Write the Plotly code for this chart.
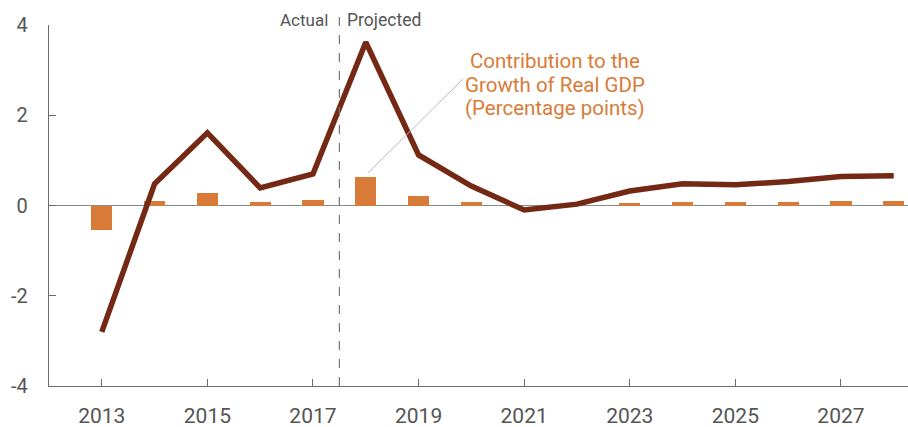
import plotly.graph_objects as go

years = list(range(2013, 2029))
gdp_growth = [-2.80, 0.48, 1.61, 0.39, 0.70, 3.62, 1.12, 0.43, -0.10, 0.03, 0.32, 0.48, 0.46, 0.53, 0.64, 0.66]
contribution = [-0.54, 0.09, 0.28, 0.07, 0.12, 0.63, 0.20, 0.07, 0.0, 0.0, 0.05, 0.08, 0.07, 0.08, 0.10, 0.10]
tick_years = [2013, 2015, 2017, 2019, 2021, 2023, 2025, 2027]
tick_text = [str(y) for y in tick_years]
y_ticks = [-4, -2, 0, 2, 4]
y_tick_text = ["-4", "-2", "0", "2", "4"]
label_lines = ["Contribution to the", "Growth of Real GDP", "(Percentage points)"]
label_y = [3.20, 2.67, 2.16]

LINE_C = "#732914"
BAR_C = "#d97b38"
AXIS_C = "#6b6b6b"
TEXT_C = "#555555"
FONT = "Roboto"

fig = go.Figure()
fig.add_trace(go.Bar(x=years, y=contribution, marker=dict(color=BAR_C, line=dict(width=0)),
                     width=0.4, hoverinfo="skip"))
fig.add_trace(go.Scatter(x=years, y=gdp_growth, mode="lines",
                         line=dict(color=LINE_C, width=5.5), hoverinfo="skip"))

# vertical dashed divider between actual and projected
fig.add_shape(type="line", xref="x", yref="paper", x0=2017.5, x1=2017.5, y0=0, y1=1.034,
              line=dict(color="#777777", width=1.2, dash="dash"))
# leader line for the annotation
fig.add_shape(type="line", xref="x", yref="y", x0=2018.04, y0=0.72, x1=2019.84, y1=2.80,
              line=dict(color="#bbbbbb", width=1))

fig.add_annotation(x=2017.5, y=1.0, xref="x", yref="paper", text="Actual", showarrow=False,
                   xanchor="right", yanchor="bottom", xshift=-9, yshift=-7,
                   font=dict(family=FONT, size=17, color=TEXT_C))
fig.add_annotation(x=2017.5, y=1.0, xref="x", yref="paper", text="Projected", showarrow=False,
                   xanchor="left", yanchor="bottom", xshift=6, yshift=-7,
                   font=dict(family=FONT, size=17.5, color=TEXT_C))
for txt, yy in zip(label_lines, label_y):
    fig.add_annotation(x=2021.58, y=yy, xref="x", yref="y", text=txt,
                       showarrow=False, align="center",
                       font=dict(family=FONT, size=20.5, color=BAR_C))

fig.update_layout(
    width=908, height=427,
    margin=dict(l=49, r=0, t=25, b=41, autoexpand=False),
    plot_bgcolor="white", paper_bgcolor="white",
    showlegend=False, bargap=0,
    font=dict(family=FONT, color=TEXT_C),
)
fig.update_xaxes(range=[2012, 2028.27], tickmode="array", tickvals=tick_years, ticktext=tick_text,
                 ticks="inside", ticklen=7, tickcolor=AXIS_C, tickwidth=1.3,
                 showline=True, linecolor=AXIS_C, linewidth=1.3,
                 showgrid=False, zeroline=False, automargin=False,
                 tickfont=dict(family=FONT, size=21, color=TEXT_C), ticklabelstandoff=11)
fig.update_yaxes(range=[-4, 4], tickmode="array", tickvals=y_ticks, ticktext=y_tick_text,
                 ticks="inside", ticklen=7, tickcolor=AXIS_C, tickwidth=1.3,
                 showline=True, linecolor=AXIS_C, linewidth=1.3,
                 showgrid=False, zeroline=True, zerolinecolor="#888888", zerolinewidth=1.3,
                 automargin=False,
                 tickfont=dict(family=FONT, size=20, color=TEXT_C), ticklabelstandoff=16)

fig.write_html("out.html", config={"displayModeBar": False},
               post_script="document.body.style.margin='0px';")
